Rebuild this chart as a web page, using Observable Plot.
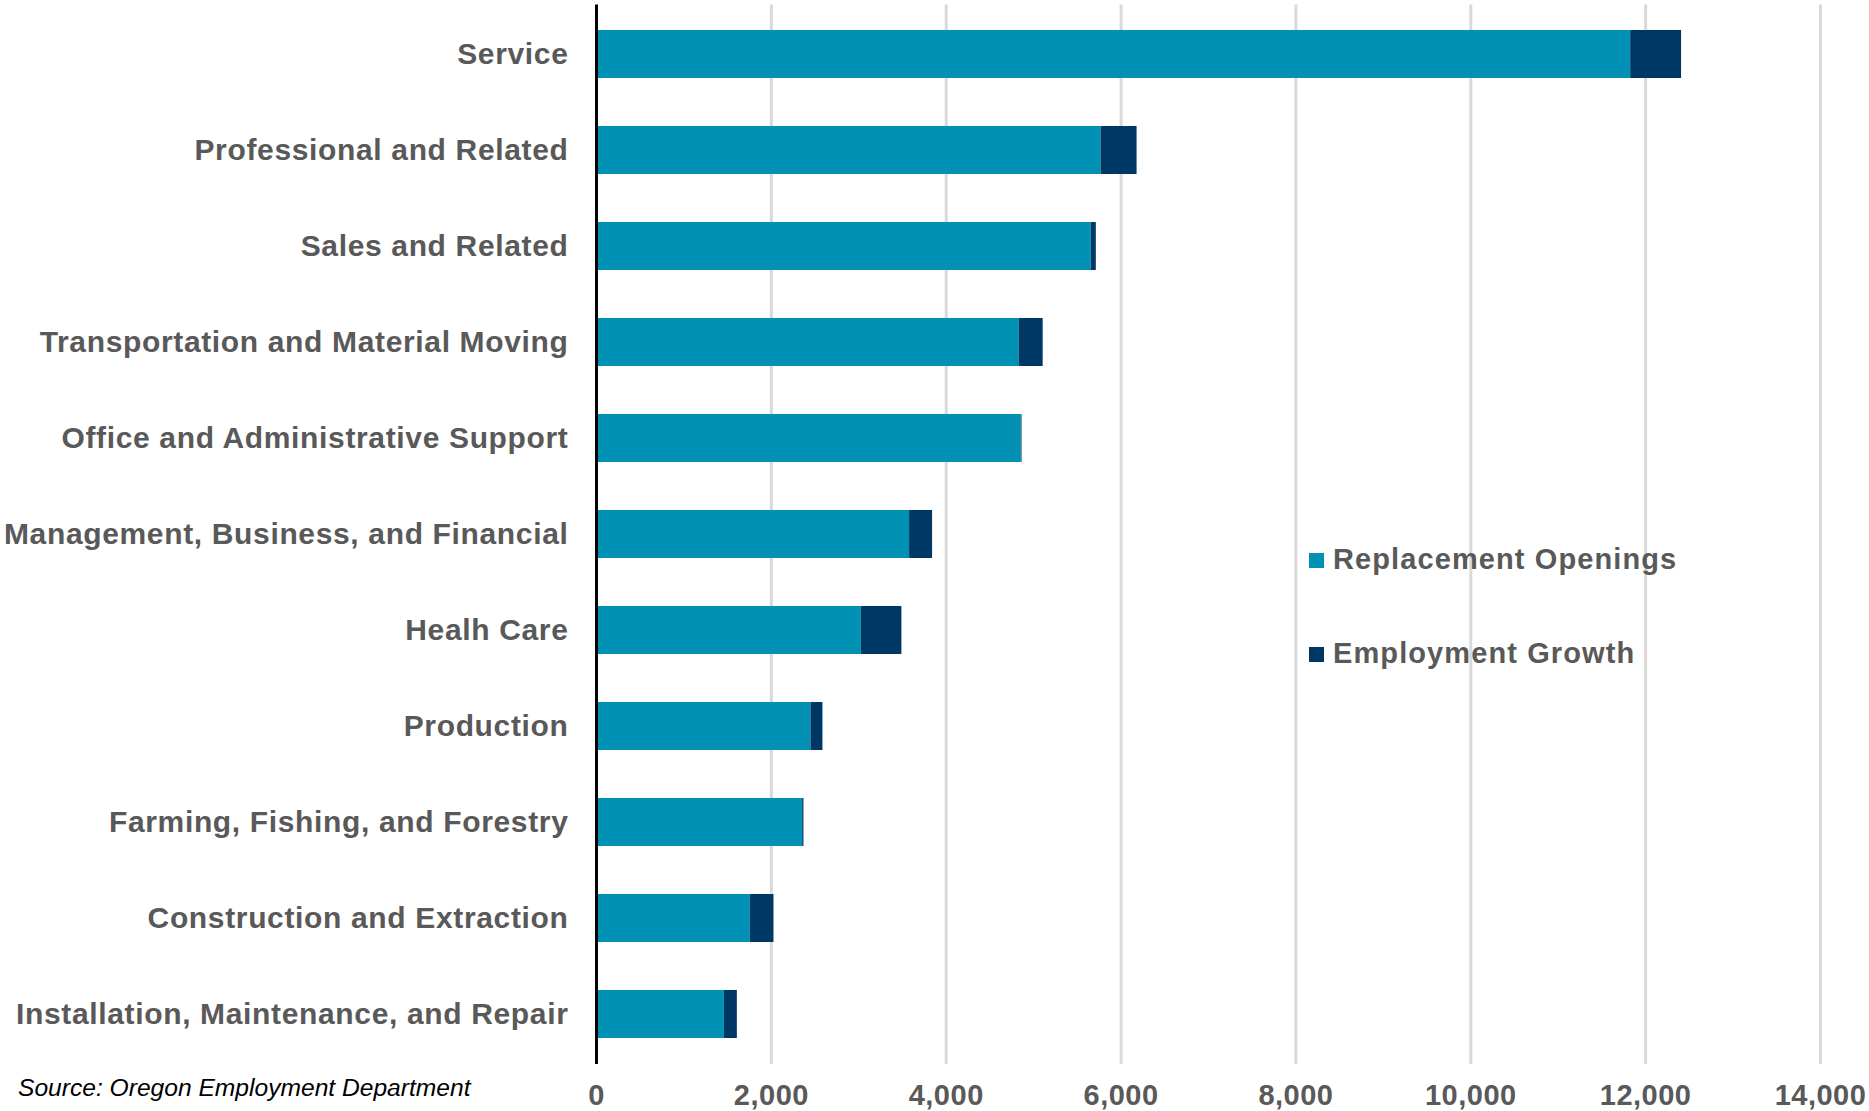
<!DOCTYPE html>
<html>
<head>
<meta charset="utf-8">
<script src="https://cdn.jsdelivr.net/npm/d3@7"></script>
<script src="https://cdn.jsdelivr.net/npm/@observablehq/plot@0.6"></script>
<style>
  html, body { margin: 0; padding: 0; background: #fff; }
  #wrap { position: relative; width: 1869px; height: 1111px; overflow: hidden; }
  #legend { position: absolute; left: 1309px; top: 0; font-family: "Liberation Sans", Arial, sans-serif; font-weight: bold; font-size: 29px; color: #595959; letter-spacing: 1.1px; }
  .item { position: absolute; left: 0; white-space: nowrap; }
  .sw { position: absolute; left: 0; width: 15px; height: 15px; }
  .lab { position: absolute; left: 24px; line-height: 1; }
  #source { position: absolute; left: 18px; top: 1076px; font-family: "Liberation Sans", Arial, sans-serif; font-style: italic; font-size: 24.6px; color: #000; white-space: nowrap; line-height: 1; }
</style>
</head>
<body>
<div id="wrap">
  <div id="chart"></div>
  <div id="legend"></div>
  <div id="source">Source: Oregon Employment Department</div>
</div>
<script>
const categories = [
  "Service",
  "Professional and Related",
  "Sales and Related",
  "Transportation and Material Moving",
  "Office and Administrative Support",
  "Management, Business, and Financial",
  "Healh Care",
  "Production",
  "Farming, Fishing, and Forestry",
  "Construction and Extraction",
  "Installation, Maintenance, and Repair"
];
const replacementOpenings = [11829, 5771, 5659, 4833, 4859, 3581, 3029, 2453, 2358, 1760, 1463];
const employmentGrowth = [582, 412, 58, 276, 8, 263, 464, 137, 15, 270, 148];
const seriesNames = ["Replacement Openings", "Employment Growth"];
const seriesColors = ["#0091b4", "#003865"];
const xTicks = [0, 2000, 4000, 6000, 8000, 10000, 12000, 14000];

const data = [];
categories.forEach((c, i) => {
  data.push({category: c, series: seriesNames[0], value: replacementOpenings[i]});
  data.push({category: c, series: seriesNames[1], value: employmentGrowth[i]});
});

const chart = Plot.plot({
  width: 1869,
  height: 1111,
  marginLeft: 596,
  marginRight: 49,
  marginTop: 4.5,
  marginBottom: 47,
  style: {fontFamily: "'Liberation Sans', Arial, sans-serif", background: "#fff"},
  x: {domain: [0, 14000], label: null},
  y: {domain: categories, paddingInner: 0.5, paddingOuter: 0.25, label: null},
  color: {domain: seriesNames, range: seriesColors},
  marks: [
    Plot.gridX(xTicks.slice(1), {stroke: "#d9d9d9", strokeOpacity: 1, strokeWidth: 3}),
    Plot.barX(data, Plot.stackX({x: "value", y: "category", fill: "series", z: "series", order: seriesNames})),
    Plot.ruleX([0], {stroke: "#000", strokeWidth: 3}),
    Plot.axisY({tickSize: 0, tickPadding: 28, fontSize: 30, fontWeight: "bold", fill: "#595959", label: null}),
    Plot.axisX(xTicks, {tickSize: 0, tickPadding: 20, fontSize: 29, fontWeight: "bold", fill: "#595959", tickFormat: d3.format(","), label: null})
  ]
});
chart.querySelectorAll("g[aria-label='y-axis tick label'] text").forEach(t => t.setAttribute("letter-spacing", "0.65px"));
chart.querySelectorAll("g[aria-label='x-axis tick label'] text").forEach(t => t.setAttribute("letter-spacing", "0.5px"));
document.getElementById("chart").appendChild(chart);

const legend = document.getElementById("legend");
const rowTops = [553, 647];
seriesNames.forEach((name, i) => {
  const item = document.createElement("div");
  item.className = "item";
  item.style.top = rowTops[i] + "px";
  const sw = document.createElement("div");
  sw.className = "sw";
  sw.style.background = seriesColors[i];
  const lab = document.createElement("div");
  lab.className = "lab";
  lab.style.top = "-8px";
  lab.textContent = name;
  item.appendChild(sw);
  item.appendChild(lab);
  legend.appendChild(item);
});
</script>
</body>
</html>
